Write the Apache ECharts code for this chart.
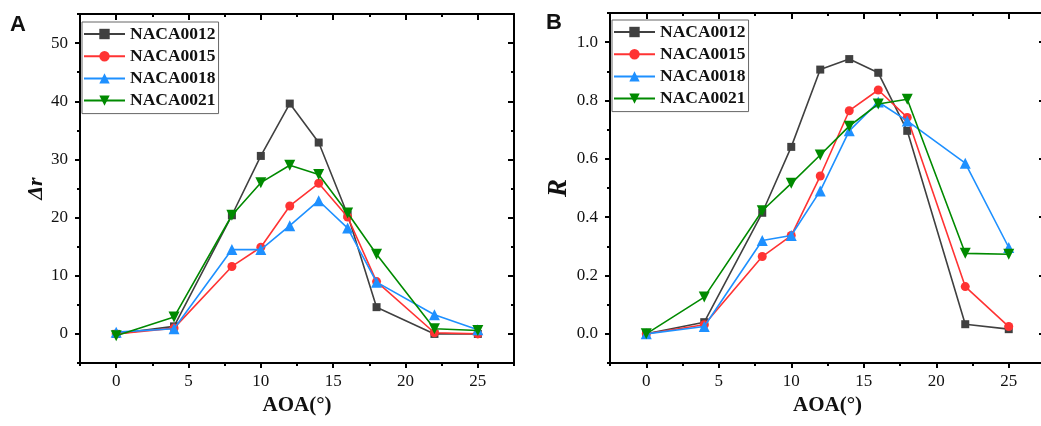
<!DOCTYPE html>
<html>
<head>
<meta charset="utf-8">
<script src="https://cdn.jsdelivr.net/npm/echarts@6/dist/echarts.min.js"></script>
<style>html,body{margin:0;padding:0;background:#fff}#c{width:1041px;height:426px}</style>
</head>
<body>
<div id="c"></div>
<script>
// ---- data ----
const aoa = [0, 4, 8, 10, 12, 14, 16, 18, 22, 25];
const seriesNames = ['NACA0012', 'NACA0015', 'NACA0018', 'NACA0021'];
// Panel A: Δr
const dr0012 = [0, 1.3, 20.4, 30.6, 39.6, 32.9, 20.5, 4.6, 0, 0];
const dr0015 = [0, 1.0, 11.6, 14.9, 22.0, 25.9, 20.1, 9.0, 0.2, 0];
const dr0018 = [0.3, 0.9, 14.5, 14.5, 18.6, 22.9, 18.2, 8.9, 3.3, 0.7];
const dr0021 = [-0.3, 2.9, 20.4, 26.0, 29.0, 27.4, 20.8, 13.7, 0.9, 0.6];
// Panel B: R
const r0012 = [0, 0.04, 0.415, 0.641, 0.906, 0.942, 0.895, 0.696, 0.033, 0.016];
const r0015 = [0, 0.031, 0.265, 0.337, 0.541, 0.765, 0.836, 0.742, 0.162, 0.025];
const r0018 = [0, 0.025, 0.32, 0.337, 0.49, 0.696, 0.795, 0.73, 0.585, 0.296];
const r0021 = [0, 0.126, 0.422, 0.516, 0.613, 0.712, 0.788, 0.804, 0.276, 0.273];
// tick labels
const xTicks = [0, 5, 10, 15, 20, 25];
const xMinor = [-2.5, 2.5, 7.5, 12.5, 17.5, 22.5, 27.5];
const drTicks = [0, 10, 20, 30, 40, 50];
const drMinor = [-5, 5, 15, 25, 35, 45, 55];
const rTicks = [0, 0.2, 0.4, 0.6, 0.8, 1.0];
const rMinor = [-0.1, 0.1, 0.3, 0.5, 0.7, 0.9, 1.1];

const colors = ['#404040', '#ff3333', '#1e90ff', '#008a00'];
const symbols = ['rect', 'circle', 'triangle', 'path://M0,0 L10,0 L5,9 Z'];
const symSizes = [8, 9, 11, 11];

const serif = '"Liberation Serif", "Times New Roman", serif';
const tickFont = '"Liberation Serif", "Times New Roman", serif';

function xAxes(gridIndex) {
  const base = { type: 'value', gridIndex, min: -2.5, max: 27.5, interval: 2.5, splitLine: { show: false } };
  return [
    Object.assign({}, base, {
      position: 'bottom',
      axisLine: { show: true, onZero: false, lineStyle: { color: '#000', width: 2 } },
      axisTick: { show: true, customValues: xTicks, length: 5, lineStyle: { color: '#000', width: 2 } },
      axisLabel: { show: true, customValues: xTicks, margin: 10, fontFamily: tickFont, fontSize: 17, color: '#111' },
      name: 'AOA(°)', nameLocation: 'middle', nameGap: 32,
      nameTextStyle: { fontFamily: serif, fontWeight: 'bold', fontSize: 21, color: '#111' }
    }),
    Object.assign({}, base, {
      position: 'bottom',
      axisLine: { show: false, onZero: false },
      axisTick: { show: true, customValues: xMinor, length: 3, lineStyle: { color: '#000', width: 2 } },
      axisLabel: { show: false }
    }),
    Object.assign({}, base, {
      position: 'top',
      axisLine: { show: true, onZero: false, lineStyle: { color: '#000', width: 2 } },
      axisTick: { show: true, inside: true, customValues: xTicks, length: 6, lineStyle: { color: '#000', width: 2 } },
      axisLabel: { show: false }
    }),
    Object.assign({}, base, {
      position: 'top',
      axisLine: { show: false, onZero: false },
      axisTick: { show: true, inside: true, customValues: xMinor, length: 3, lineStyle: { color: '#000', width: 2 } },
      axisLabel: { show: false }
    })
  ];
}

function yAxes(gridIndex, min, max, interval, ticks, minor, name, nameSize, nameGap, fmt) {
  const base = { type: 'value', gridIndex, min, max, interval, splitLine: { show: false } };
  return [
    Object.assign({}, base, {
      position: 'left',
      axisLine: { show: true, onZero: false, lineStyle: { color: '#000', width: 2 } },
      axisTick: { show: true, customValues: ticks, length: 5, lineStyle: { color: '#000', width: 2 } },
      axisLabel: { show: true, customValues: ticks, margin: 12, fontFamily: tickFont, fontSize: 17, color: '#111', formatter: fmt },
      name, nameLocation: 'middle', nameGap, nameRotate: 90,
      nameTextStyle: { fontFamily: serif, fontWeight: 'bold', fontStyle: 'italic', fontSize: nameSize, color: '#111' }
    }),
    Object.assign({}, base, {
      position: 'left',
      axisLine: { show: false, onZero: false },
      axisTick: { show: true, customValues: minor, length: 3, lineStyle: { color: '#000', width: 2 } },
      axisLabel: { show: false }
    }),
    Object.assign({}, base, {
      position: 'right',
      axisLine: { show: true, onZero: false, lineStyle: { color: '#000', width: 2 } },
      axisTick: { show: true, inside: true, customValues: ticks, length: 6, lineStyle: { color: '#000', width: 2 } },
      axisLabel: { show: false }
    }),
    Object.assign({}, base, {
      position: 'right',
      axisLine: { show: false, onZero: false },
      axisTick: { show: true, inside: true, customValues: minor, length: 3, lineStyle: { color: '#000', width: 2 } },
      axisLabel: { show: false }
    })
  ];
}

function makeSeries(dataArrs, xi, yi) {
  return dataArrs.map((arr, i) => ({
    type: 'line',
    name: seriesNames[i],
    xAxisIndex: xi, yAxisIndex: yi,
    data: aoa.map((a, k) => [a, arr[k]]),
    symbol: symbols[i], symbolSize: symSizes[i],
    showAllSymbol: true,
    lineStyle: { color: colors[i], width: 1.6 },
    itemStyle: { color: colors[i] },
    z: 2 + i,
    animation: false
  }));
}

function legend(left, top) {
  return {
    orient: 'vertical', left, top,
    data: seriesNames,
    backgroundColor: '#fff',
    borderColor: '#666', borderWidth: 1,
    padding: [3, 3, 4, 1],
    itemWidth: 41, itemHeight: 13, itemGap: 4.2,
    selectedMode: false,
    textStyle: { fontFamily: serif, fontWeight: 'bold', fontSize: 17.5, lineHeight: 18, color: '#111' }
  };
}

const chart = echarts.init(document.getElementById('c'), null, { renderer: 'canvas' });
chart.setOption({
  animation: false,
  backgroundColor: '#fff',
  grid: [
    { left: 80, width: 434, top: 14, bottom: 63, containLabel: false, outerBoundsMode: 'none' },
    { left: 610, width: 435, top: 13, bottom: 63, containLabel: false, outerBoundsMode: 'none' }
  ],
  xAxis: [].concat(xAxes(0), xAxes(1)),
  yAxis: [].concat(
    yAxes(0, -5, 55, 5, drTicks, drMinor, 'Δr', 22, 31, v => String(v)),
    yAxes(1, -0.1, 1.1, 0.1, rTicks, rMinor, 'R', 27, 36, v => v.toFixed(1))
  ),
  legend: [legend(82, 22), legend(612, 20)],
  graphic: [
    { type: 'text', left: 10, top: 14, style: { text: 'A', font: 'bold 22px "Liberation Sans", Arial, sans-serif', fill: '#111' } },
    { type: 'text', left: 546, top: 12, style: { text: 'B', font: 'bold 22px "Liberation Sans", Arial, sans-serif', fill: '#111' } }
  ],
  series: [].concat(
    makeSeries([dr0012, dr0015, dr0018, dr0021], 0, 0),
    makeSeries([r0012, r0015, r0018, r0021], 4, 4)
  )
});
</script>
</body>
</html>
